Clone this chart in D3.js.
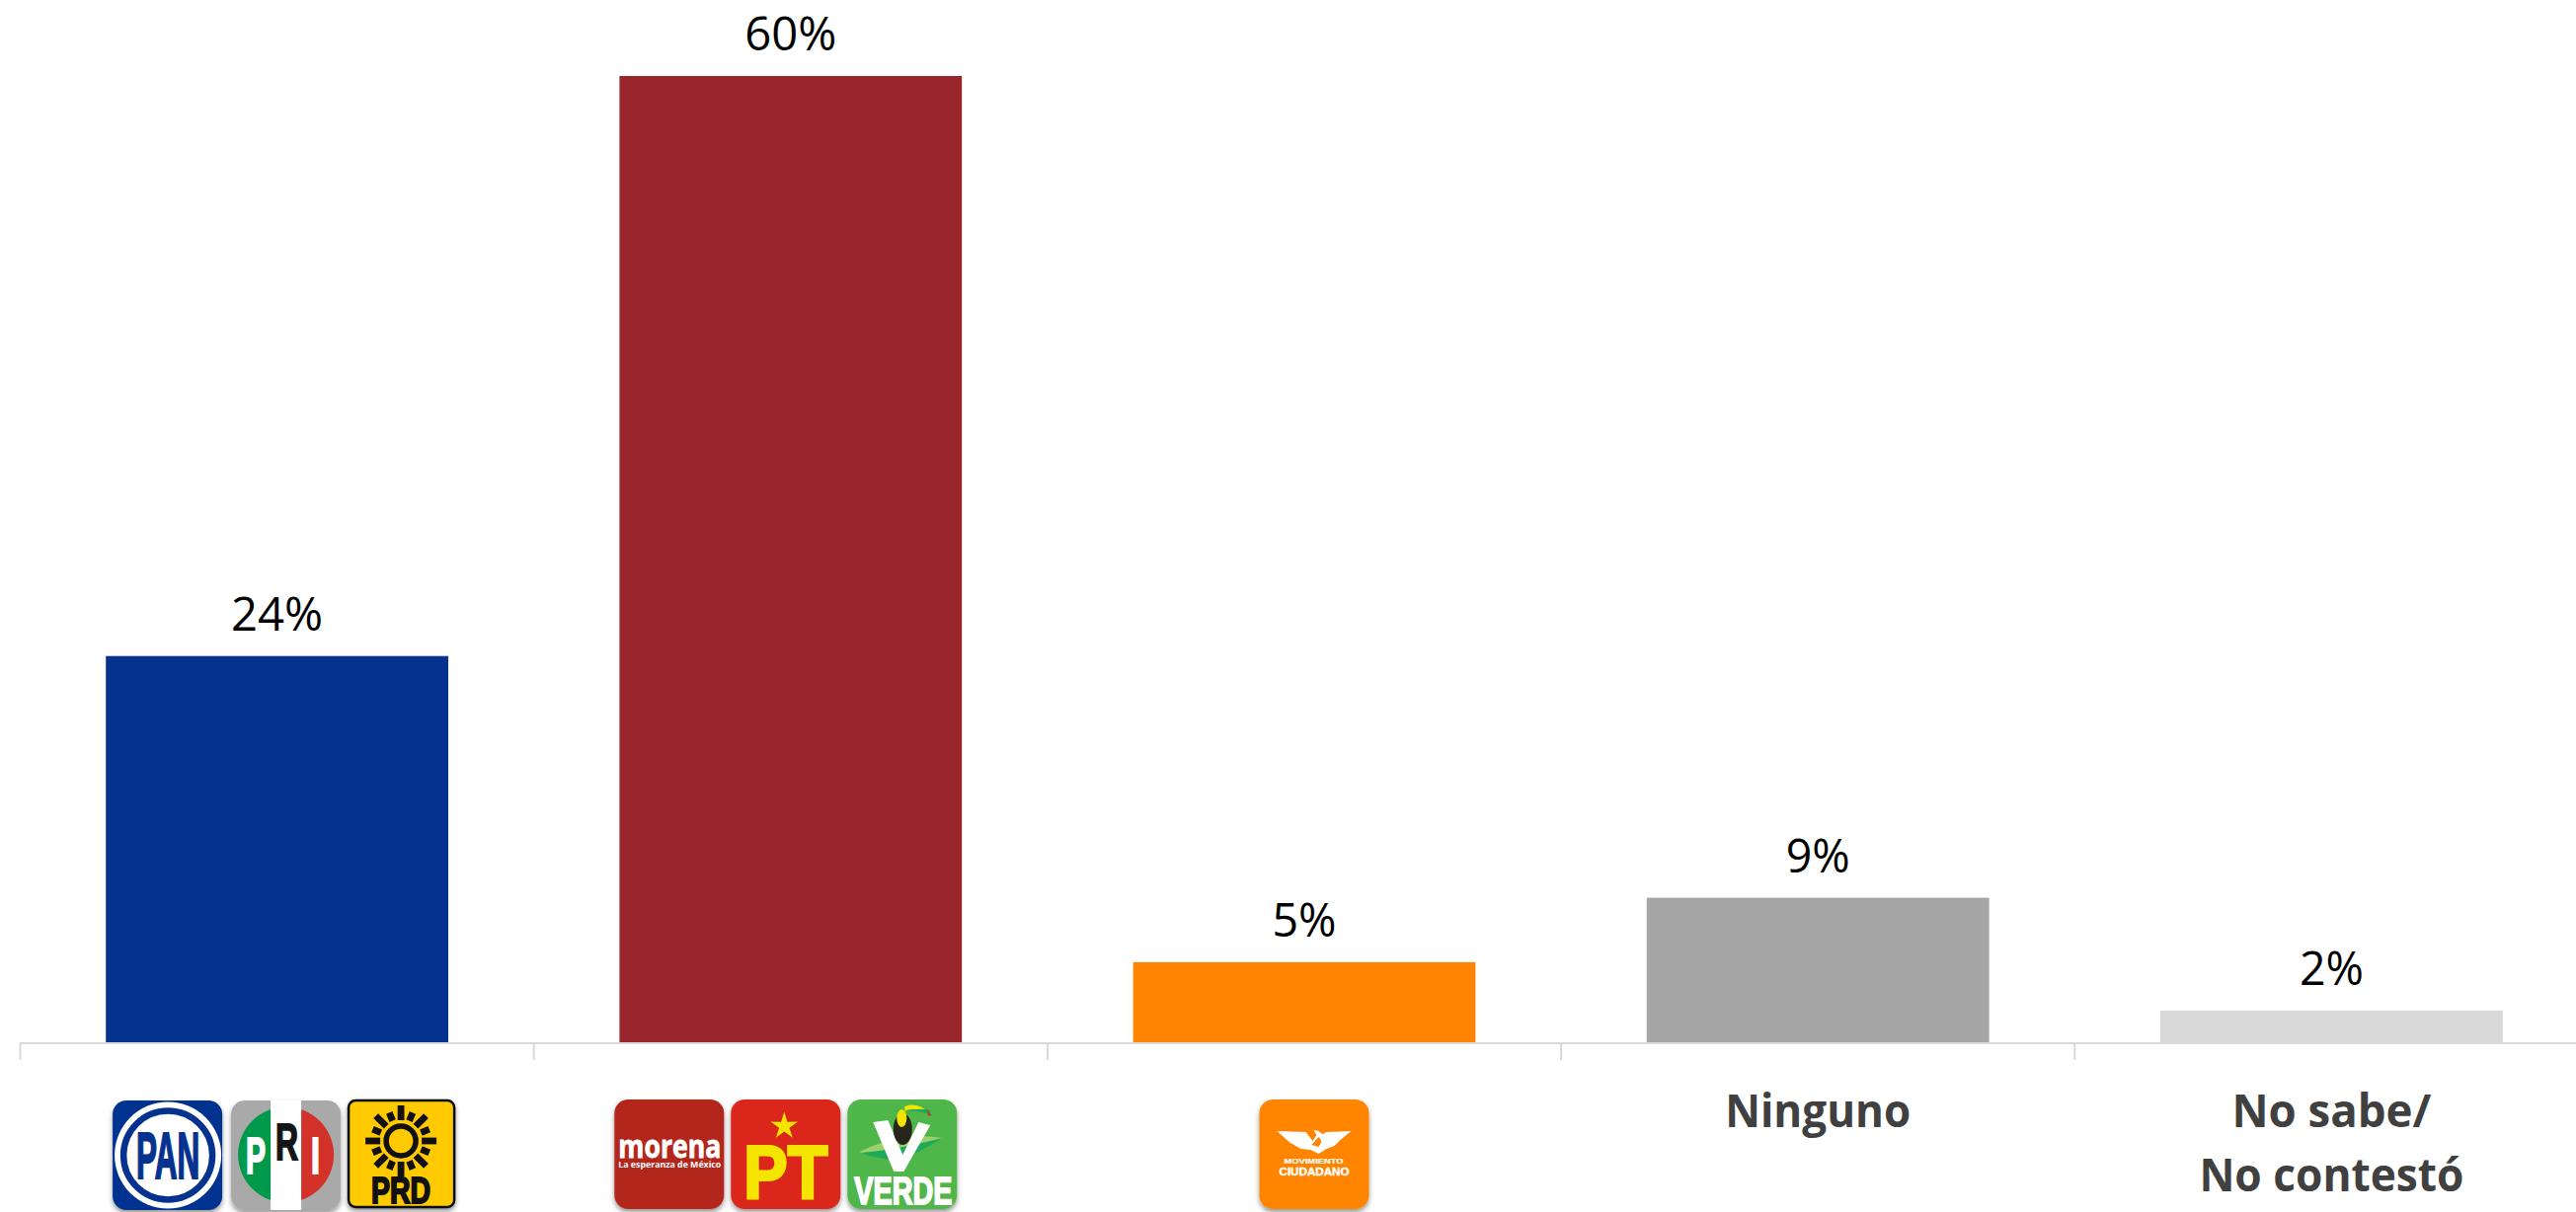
<!DOCTYPE html>
<html><head><meta charset="utf-8">
<script src="https://cdn.jsdelivr.net/npm/d3@7"></script>
<style>html,body{margin:0;padding:0;background:#fff}svg{display:block}text{font-family:"Open Sans",sans-serif}</style>
</head><body><svg id="c" width="2609" height="1228"></svg>
<script>
const categories = ["Alianza PAN-PRI-PRD","Alianza Morena-PT-Verde","Movimiento Ciudadano","Ninguno","No sabe/No contestó"];
const values = [24,60,5,9,2];
const barColors = ["#06328f","#98262c","#ff8403","#a6a6a6","#d9d9d9"];
const axisLabels = [[],[],[],["Ninguno"],["No sabe/","No contestó"]];
const logoGroups = [["PAN","PRI","PRD"],["MORENA","PT","VERDE"],["MC"],[],[]];

const W=2609,H=1228;
const svg=d3.select("#c");
const x=d3.scaleBand().domain(categories).range([20.5,2621.5]).paddingInner(1/3).paddingOuter(1/6);
const y=d3.scaleLinear().domain([0,60]).range([1056.5,77]);
const step=x.step();

const defs=svg.append("defs");
const f=defs.append("filter").attr("id","sh").attr("x","-20%").attr("y","-20%").attr("width","140%").attr("height","140%");
f.append("feDropShadow").attr("dx",0).attr("dy",3).attr("stdDeviation",2.5).attr("flood-color","#000").attr("flood-opacity",.42);
const cp=defs.append("clipPath").attr("id","priC");cp.append("circle").attr("cx",55.5).attr("cy",55).attr("r",48.5);

// bars
svg.append("g").selectAll("rect").data(values).join("rect")
 .attr("x",(d,i)=>x(categories[i])).attr("width",x.bandwidth())
 .attr("y",d=>y(d)).attr("height",d=>y(0)-y(d)).attr("fill",(d,i)=>barColors[i]);

// axis
const ag=svg.append("g");
ag.append("line").attr("x1",20).attr("x2",W).attr("y1",1057).attr("y2",1057).attr("stroke","#d9d9d9").attr("stroke-width",2);
ag.selectAll("line.t").data(categories).join("line").attr("class","t")
 .attr("x1",d=>x(d)-step/6).attr("x2",d=>x(d)-step/6).attr("y1",1057).attr("y2",1074)
 .attr("stroke","#d9d9d9").attr("stroke-width",2);

// value labels
svg.append("g").selectAll("text").data(values).join("text")
 .attr("x",(d,i)=>x(categories[i])+x.bandwidth()/2).attr("y",d=>y(d)-26)
 .attr("text-anchor","middle").attr("font-size",48).attr("fill","#000")
 .attr("textLength",d=>d>=10?93:65).attr("lengthAdjust","spacingAndGlyphs").text(d=>d+"%");

// text categories
const ty=[1142,1207];
axisLabels.forEach((ls,i)=>ls.forEach((t,j)=>{
 svg.append("text").attr("x",x(categories[i])+x.bandwidth()/2).attr("y",ty[j])
  .attr("text-anchor","middle").attr("font-size",46).attr("font-weight",700).attr("fill","#404040")
  .attr("textLength",{ "Ninguno":188,"No sabe/":202,"No contestó":268}[t]).attr("lengthAdjust","spacingAndGlyphs").text(t);
}));

// logo helpers
function box(g,fill,w=111,h=111,rx=14){return g.append("rect").attr("width",w).attr("height",h).attr("rx",rx).attr("fill",fill);}
function txt(g,s,x0,w,base,size,fill,sw=0,fam='"Liberation Sans"'){
 return g.append("text").attr("x",x0).attr("y",base).attr("font-size",size).attr("font-weight",700)
  .style("font-family",fam).attr("fill",fill).attr("stroke",sw?fill:"none").attr("stroke-width",sw)
  .attr("textLength",w).attr("lengthAdjust","spacingAndGlyphs").text(s);
}
const logos={
 PAN(g){box(g,"#06328f").attr("filter","url(#sh)");
  g.append("circle").attr("cx",56).attr("cy",55.5).attr("r",54).attr("fill","#fff");
  g.append("circle").attr("cx",56).attr("cy",55.5).attr("r",45).attr("fill","none").attr("stroke","#06328f").attr("stroke-width",6.5);
  txt(g,"PAN",24,64,79,67,"#06328f",2.2);},
 PRI(g){box(g,"#a9a9a9").attr("filter","url(#sh)");
  g.append("rect").attr("width",55.5).attr("height",111).attr("fill","#00984a").attr("clip-path","url(#priC)");
  g.append("rect").attr("x",55.5).attr("width",55.5).attr("height",111).attr("fill","#d2322a").attr("clip-path","url(#priC)");
  g.append("rect").attr("x",40).attr("width",31).attr("height",111).attr("fill","#fff");
  txt(g,"P",15,20,74,51,"#fff",2);txt(g,"R",45,23,60,52,"#141518",2);txt(g,"I",81,9,74,51,"#fff",2);},
 PRD(g){g.append("rect").attr("x",1).attr("y",1).attr("width",107).attr("height",108).attr("rx",7).attr("fill","#ffcb05").attr("stroke","#111").attr("stroke-width",2.5).attr("filter","url(#sh)");
  const cx=54,cy=42;
  d3.range(16).forEach(i=>{const a=i*22.5,long=i%2==0;
   g.append("rect").attr("x",cx-3.4).attr("y",cy-(long?36:31)).attr("width",6.8).attr("height",long?15:9).attr("fill","#111").attr("transform",`rotate(${a} ${cx} ${cy})`);});
  g.append("circle").attr("cx",cx).attr("cy",cy).attr("r",15).attr("fill","none").attr("stroke","#111").attr("stroke-width",5.5);
  txt(g,"PRD",24,60,105,37,"#111",2);},
 MORENA(g){box(g,"#b3261e").attr("filter","url(#sh)");
  txt(g,"morena",4,104,59,32,"#fff",.8,'"Open Sans"');
  txt(g,"La esperanza de México",4,104,69,8,"#fff",0,'"Open Sans"');},
 PT(g){box(g,"#db261c").attr("filter","url(#sh)");
  const star=d3.range(10).map(i=>{const r=i%2?5.4:14.5,a=i*Math.PI/5;return [54+r*Math.sin(a),27-r*Math.cos(a)];});
  g.append("polygon").attr("points",star.join(" ")).attr("fill","#f3e500");
  txt(g,"PT",13,85,100,76,"#f3e500",3);},
 VERDE(g){box(g,"#50b649").attr("filter","url(#sh)");
  g.append("path").attr("d","M12 53Q55 32 96 39Q70 52 55 58Q30 60 12 53Z").attr("fill","#9bd06a");
  g.append("path").attr("d","M14 54Q55 50 96 39Q70 56 50 61Q28 60 14 54Z").attr("fill","#1faa5a");
  g.append("polygon").attr("points","26,23 41,21 56,56 72,23 84,26 57,73 47,73").attr("fill","#fff");
  g.append("ellipse").attr("cx",56).attr("cy",30).attr("rx",9.5).attr("ry",16).attr("fill","#26261c");
  g.append("ellipse").attr("cx",55).attr("cy",19).attr("rx",5).attr("ry",9).attr("fill","#f5e400");
  g.append("path").attr("d","M58 7Q72 2 84 15L74 11Q64 8 58 12Z").attr("fill","#f5e400");
  g.append("path").attr("d","M60 12Q72 10 84 16L84 11Q72 8 60 12Z").attr("fill","#1faa5a");
  g.append("path").attr("d","M80 9L85 16L82 17Z").attr("fill","#c0392b");
  txt(g,"VERDE",7,99,106,38,"#fff",1.8);},
 MC(g){box(g,"#ff8403").attr("filter","url(#sh)");
  g.append("path").attr("d","M18 32L47 33L54 42L58 36L55 31L60 32L64 35L68 33L93 32L82 41L76 47L68 50L60 55L52 51L42 50L30 43Z").attr("fill","#fff");
  g.append("path").attr("d","M53 46Q58 40 60 38Q65 42 60 48Z").attr("fill","#ff8403");
  txt(g,"MOVIMIENTO",25,60,65,8,"#fff",.2);
  txt(g,"CIUDADANO",20,71,77,11,"#fff",.4);}
};
// logo slots relative to each band's centre
const slotOffsets=[[-166.5,-46.5,71.5],[-178.5,-60.5,57.5],[-45.5]];
const slotTops=[[1115,1115,1114],[1114,1114,1114],[1114]];
logoGroups.forEach((grp,i)=>grp.forEach((k,j)=>{
 const cx=x(categories[i])+x.bandwidth()/2;
 const g=svg.append("g").attr("transform",`translate(${cx+slotOffsets[i][j]},${slotTops[i][j]})`);
 logos[k](g);
}));
</script></body></html>
